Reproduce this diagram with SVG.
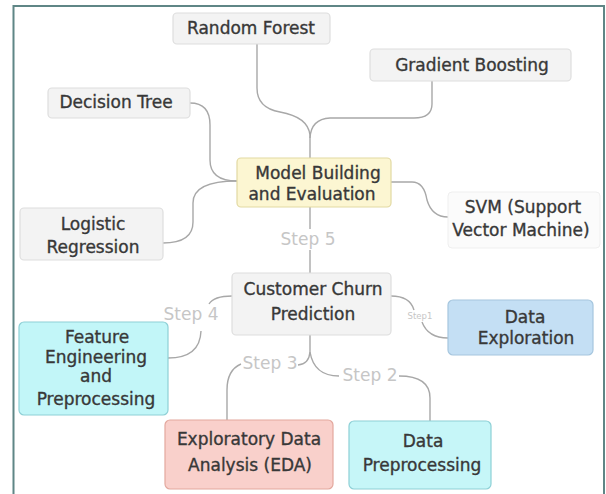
<svg xmlns="http://www.w3.org/2000/svg" width="606" height="494" viewBox="0 0 606 494">
<style>
.t{font-family:"DejaVu Sans","Liberation Sans",sans-serif;font-size:17px;fill:#383838;stroke:#383838;stroke-width:0.35;text-anchor:middle}
.s{font-family:"DejaVu Sans","Liberation Sans",sans-serif;font-size:17px;fill:#c6c6c6;text-anchor:middle}
.g{fill:#f3f3f3;stroke:#dedede;stroke-width:1.2}
.c{fill:none;stroke:#a8a8a8;stroke-width:1.4}
</style>
<rect x="0" y="0" width="606" height="494" fill="#ffffff"/>
<path d="M13.5 494 V6 H604 V494" fill="none" stroke="#5f8686" stroke-width="2"/>
<g id="connectors">
<path class="c" d="M257 44 V88 Q257 108 280 112 Q308 117 310 135 V158"/>
<path class="c" d="M432 81 V104 Q432 118 414 118 H330 Q311 119 310 138"/>
<path class="c" d="M190 103 Q210 103 210 125 V160 Q210 181 237 181"/>
<path class="c" d="M163 243 Q193 243 193 222 V203 Q193 181 237 181"/>
<path class="c" d="M391 182 H412 Q424 182 427 200 Q432 217 448 217"/>
<path class="c" d="M310 207 V229"/>
<path class="c" d="M310 250 V273"/>
<path class="c" d="M232 296 Q214 296 209 304"/>
<path class="c" d="M201 331 Q200 358 168 358"/>
<path class="c" d="M391 296 Q410 296 414 310"/>
<path class="c" d="M422 322 Q428 338 448 338"/>
<path class="c" d="M310 335 V352 Q309 364 298 365"/>
<path class="c" d="M310 352 Q314 376 339 376"/>
<path class="c" d="M241 364 Q227 370 227 390 V420"/>
<path class="c" d="M399 376 Q430 376 430 398 V421"/>
</g>
<g id="random-forest"><rect class="g" x="173" y="13" width="157" height="31" rx="4"/><text class="t" x="251" y="34">Random Forest</text></g>
<g id="gradient-boosting"><rect class="g" x="370" y="49" width="201" height="32" rx="4"/><text class="t" x="472" y="71">Gradient Boosting</text></g>
<g id="decision-tree"><rect class="g" x="48" y="88" width="142" height="30" rx="4"/><text class="t" x="116" y="108">Decision Tree</text></g>
<g id="model-building"><rect x="237" y="158" width="154" height="49" rx="4" fill="#fcf6d2" stroke="#e2d9a2" stroke-width="1.2"/><text class="t" x="318" y="179">Model Building</text><text class="t" x="312" y="200">and Evaluation</text></g>
<g id="logistic-regression"><rect class="g" x="20" y="208" width="143" height="52" rx="4"/><text class="t" x="93" y="230">Logistic</text><text class="t" x="93" y="253">Regression</text></g>
<g id="svm"><rect x="448" y="192" width="152" height="56" rx="4" fill="#fbfbfb" stroke="#efefef" stroke-width="1"/><text class="t" x="523" y="213">SVM (Support</text><text class="t" x="521" y="236">Vector Machine)</text></g>
<text class="s" x="308" y="245">Step 5</text>
<g id="customer-churn"><rect class="g" x="232" y="273" width="159" height="62" rx="4"/><text class="t" x="313" y="295">Customer Churn</text><text class="t" x="313" y="320">Prediction</text></g>
<text class="s" x="191" y="320">Step 4</text>
<text class="s" x="420" y="319" style="font-size:8.5px">Step1</text>
<g id="data-exploration"><rect x="448" y="300" width="145" height="55" rx="5" fill="#c4dff4" stroke="#a6c6de" stroke-width="1.2"/><text class="t" x="525" y="323">Data</text><text class="t" x="526" y="344">Exploration</text></g>
<g id="feature-engineering"><rect x="19" y="322" width="149" height="93" rx="5" fill="#c2f6f8" stroke="#8ed0d6" stroke-width="1.2"/><text class="t" x="97" y="343">Feature</text><text class="t" x="96" y="363">Engineering</text><text class="t" x="96" y="382">and</text><text class="t" x="96" y="405">Preprocessing</text></g>
<text class="s" x="270" y="369">Step 3</text>
<text class="s" x="370" y="381">Step 2</text>
<g id="eda"><rect x="165" y="420" width="168" height="69" rx="5" fill="#f9d0cb" stroke="#e3a89e" stroke-width="1.2"/><text class="t" x="249" y="445">Exploratory Data</text><text class="t" x="250" y="471">Analysis (EDA)</text></g>
<g id="data-preprocessing"><rect x="349" y="421" width="142" height="68" rx="5" fill="#c6f6f8" stroke="#8ed0d6" stroke-width="1.2"/><text class="t" x="423" y="447">Data</text><text class="t" x="422" y="471">Preprocessing</text></g>
</svg>
